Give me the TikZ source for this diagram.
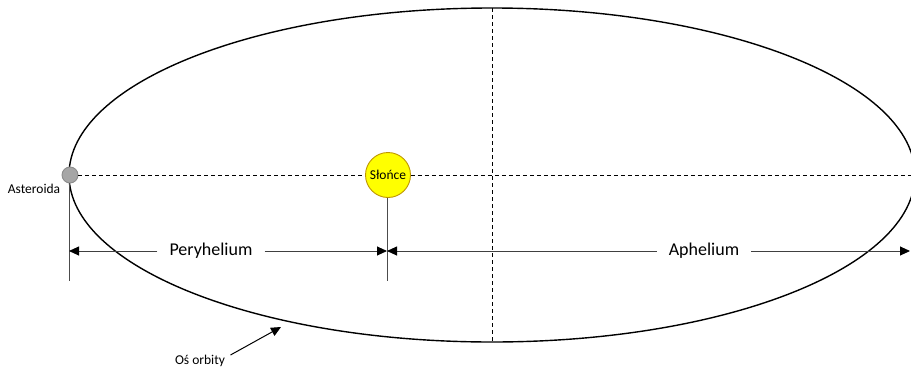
\documentclass[tikz,border=0pt]{standalone}
\usepackage{fontspec}
\setmainfont{Carlito}
\usetikzlibrary{arrows.meta}
\begin{document}
\begin{tikzpicture}[x=1pt,y=-1pt,
  orbit/.style={line width=1.4pt,black},
  guide/.style={dash pattern=on 4pt off 3pt,line width=0.8pt,black},
  ext/.style={line width=0.9pt,black!70},
  dim/.style={line width=0.9pt,black!75,-{Triangle[length=10pt,width=9pt,fill=black,color=black]}},
  biglabel/.style={fill=white,font=\fontsize{18}{21}\selectfont,inner xsep=12pt},
  smalllabel/.style={font=\fontsize{13.5}{15}\selectfont}]
\useasboundingbox (0,0) rectangle (911,370);
\begin{scope}
\clip (0,0) rectangle (911,370);
\draw[orbit] (492,175) ellipse [x radius=423, y radius=167];
\coordinate (rightend) at (911,175);
\coordinate (top) at (492,8);
\coordinate (bottom) at (492,342);
\draw[guide] (top) -- (bottom);
\node[circle,draw=black!45,fill=black!35,line width=0.9pt,minimum size=16pt,inner sep=0pt] (ast) at (70,175) {};
\node[circle,draw={rgb,255:red,190;green,150;blue,0},fill={rgb,255:red,255;green,255;blue,0},line width=0.9pt,minimum size=45pt,inner sep=0pt,font=\fontsize{13.5}{15}\selectfont] (sun) at (388,175) {Słońce};
\draw[guide] (ast.east) -- (sun.west);
\draw[guide] (sun.east) -- (rightend);
\coordinate (a1) at (69,281);
\coordinate (s1) at (387,281);
\draw[ext] (ast.south) ++(-1,0) coordinate (astb) -- (a1);
\draw[ext] (sun.south) ++(-1,0) coordinate (sunb) -- (s1);
\coordinate (pL) at (69,251);
\coordinate (pR) at (387,251);
\coordinate (aR) at (911,251);
\node[biglabel] (peri) at (211,251) {Peryhelium};
\node[biglabel] (aph) at (704,251) {Aphelium};
\draw[dim] (peri.west) -- (pL);
\draw[dim] (peri.east) -- (pR);
\draw[dim] (aph.west) -- (pR);
\draw[dim] (aph.east) -- ([xshift=-1pt]aR);
\end{scope}
\node[smalllabel] (astlbl) at (34,189) {Asteroida};
\node[smalllabel] (orb) at (200,361) {Oś orbity};
\coordinate (orbtip) at (281,327);
\draw[line width=1pt,black,-{Triangle[length=10pt,width=9pt]}] (orb.east) ++(2,-6) -- (orbtip);
\end{tikzpicture}
\end{document}
